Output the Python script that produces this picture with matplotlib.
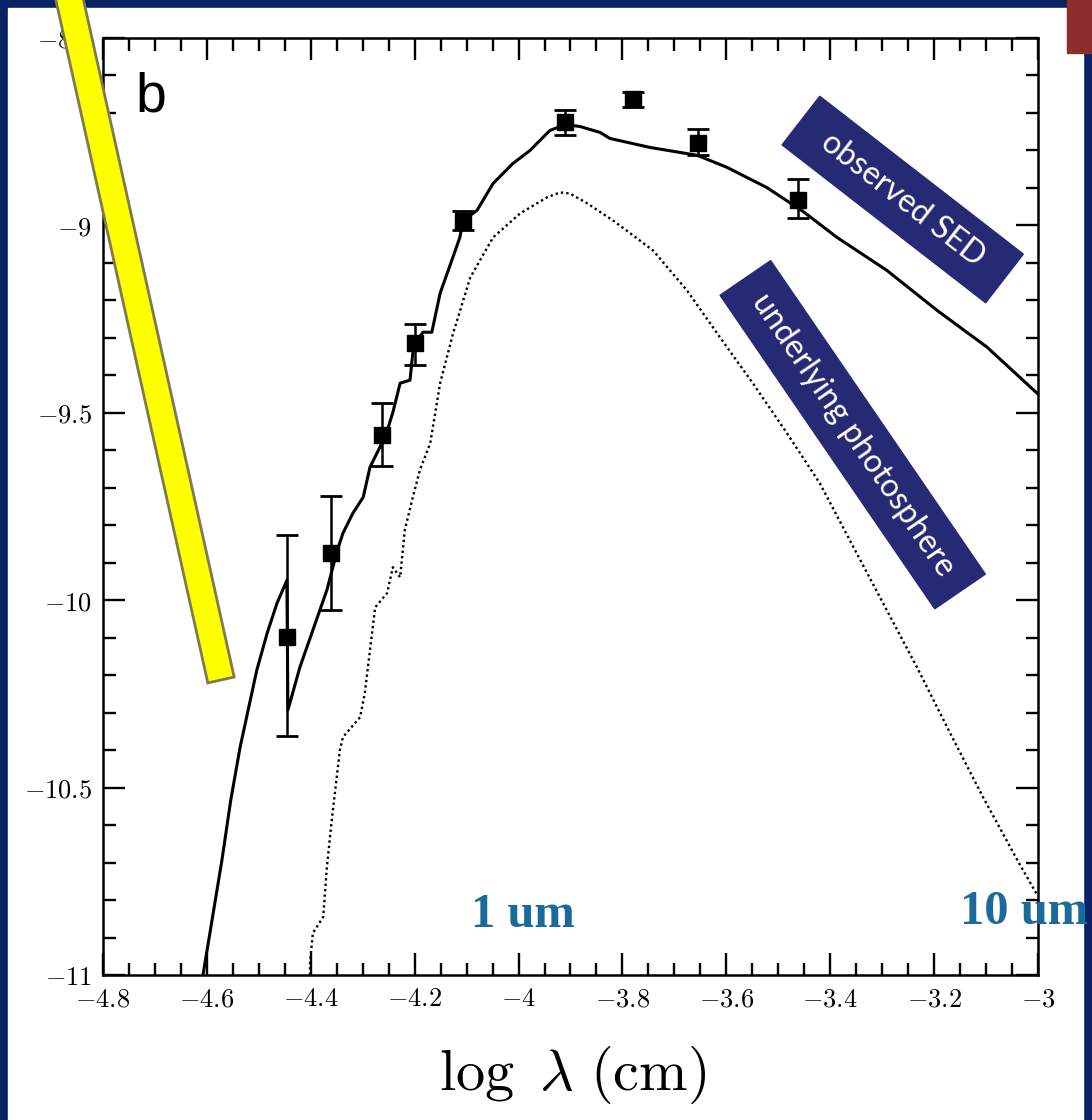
import numpy as np
import matplotlib
matplotlib.use("Agg")
import matplotlib.pyplot as plt
from matplotlib.patches import Polygon, Rectangle
from matplotlib.ticker import MultipleLocator, FuncFormatter

plt.rcParams['mathtext.fontset'] = 'cm'

# photometry: log lambda (cm), log flux, lower / upper errors
obs_x = [-4.446, -4.361, -4.263, -4.199, -4.107, -3.911, -3.780, -3.654, -3.462]
obs_y = [-10.099, -9.875, -9.560, -9.315, -8.987, -8.725, -8.664, -8.779, -8.933]
obs_err_lo = [0.264, 0.152, 0.083, 0.058, 0.025, 0.035, 0.021, 0.034, 0.046]
obs_err_hi = [0.272, 0.152, 0.085, 0.051, 0.025, 0.034, 0.019, 0.035, 0.056]

# observed SED model (solid)
sed_x = [-4.6075, -4.590, -4.571, -4.554, -4.536, -4.504, -4.484, -4.465, -4.446,
         -4.444, -4.421, -4.396, -4.369, -4.349, -4.338, -4.319, -4.299, -4.286,
         -4.267, -4.251, -4.242, -4.228, -4.209, -4.203, -4.199, -4.184, -4.167,
         -4.151, -4.132, -4.113, -4.107, -4.080, -4.049, -4.011, -3.978, -3.940,
         -3.911, -3.882, -3.843, -3.824, -3.747, -3.656, -3.599, -3.522, -3.452,
         -3.387, -3.291, -3.194, -3.098, -3.0]
sed_y = [-11.0, -10.853, -10.693, -10.533, -10.392, -10.187, -10.088, -10.008, -9.947,
         -10.293, -10.179, -10.080, -9.973, -9.867, -9.821, -9.768, -9.725, -9.645,
         -9.592, -9.539, -9.499, -9.421, -9.413, -9.333, -9.315, -9.285, -9.285,
         -9.181, -9.107, -9.032, -8.987, -8.960, -8.888, -8.835, -8.800, -8.747,
         -8.731, -8.736, -8.752, -8.768, -8.792, -8.813, -8.845, -8.899, -8.963,
         -9.032, -9.120, -9.227, -9.325, -9.450]

# underlying photosphere (dotted)
phot_x = [-4.4015, -4.4015, -4.396, -4.376, -4.369, -4.359, -4.344, -4.338, -4.305,
          -4.296, -4.286, -4.276, -4.253, -4.242, -4.228, -4.219, -4.205, -4.190,
          -4.170, -4.151, -4.126, -4.093, -4.049, -3.997, -3.945, -3.920, -3.901,
          -3.868, -3.818, -3.785, -3.741, -3.676, -3.612, -3.549, -3.483, -3.420,
          -3.352, -3.291, -3.233, -3.169, -3.106, -3.040, -3.0]
phot_y = [-11.0, -10.968, -10.888, -10.845, -10.712, -10.579, -10.400, -10.365, -10.312,
          -10.248, -10.133, -10.019, -9.981, -9.912, -9.939, -9.813, -9.733, -9.653,
          -9.581, -9.421, -9.288, -9.139, -9.032, -8.968, -8.925, -8.912, -8.915,
          -8.941, -8.987, -9.021, -9.067, -9.173, -9.299, -9.421, -9.555, -9.688,
          -9.867, -10.027, -10.179, -10.355, -10.525, -10.693, -10.790]

W, H = 1092, 1120
navy = '#0b2265'
fig = plt.figure(figsize=(W / 100, H / 100), dpi=100, facecolor=navy)

# background slide pieces (pixel coordinates)
back = fig.add_axes([0, 0, 1, 1], zorder=-5)
back.set_xlim(0, W)
back.set_ylim(H, 0)
back.axis('off')
back.add_patch(Rectangle((8, 8), 1075, H - 8, color='white'))
back.add_patch(Rectangle((1067, 0), 25, 53, color='#8c2f2c'))

# main plot
ax = fig.add_axes([103 / W, 1 - 975 / H, 935 / W, 937 / H])
ax.plot(sed_x, sed_y, color='black', lw=2.2)
ax.plot(phot_x, phot_y, color='black', lw=1.7, linestyle=(0, (1, 1.3)))
ax.errorbar(obs_x, obs_y, yerr=[obs_err_lo, obs_err_hi], fmt='s', color='black',
            ms=11, capsize=8, elinewidth=1.8, capthick=2)
ax.set_xlim(-4.8, -3)
ax.set_ylim(-11, -8.5)
ax.xaxis.set_major_locator(MultipleLocator(0.2))
ax.xaxis.set_minor_locator(MultipleLocator(0.05))
ax.yaxis.set_major_locator(MultipleLocator(0.5))
ax.yaxis.set_minor_locator(MultipleLocator(0.1))
fmt = FuncFormatter(lambda v, p: f'${v:g}$')
ax.xaxis.set_major_formatter(fmt)
ax.yaxis.set_major_formatter(fmt)
ax.tick_params(which='both', direction='in', top=True, right=True, width=1.7,
               labelsize=19, pad=8)
ax.tick_params(which='major', length=16)
ax.tick_params(which='minor', length=9)
for s in ax.spines.values():
    s.set_linewidth(1.8)

fig.text(573 / W, 1 - 1075 / H, r'$\log\ \lambda\ (\mathrm{cm})$', fontsize=42,
         ha='center', va='center')

# front overlay: annotations in pixel coordinates
front = fig.add_axes([0, 0, 1, 1], zorder=5)
front.set_xlim(0, W)
front.set_ylim(H, 0)
front.axis('off')
front.patch.set_alpha(0)

front.text(151, 98, 'b', fontsize=40, family='Liberation Sans', ha='center', va='center')

# yellow marker bar
c0 = np.array([63.0, -30.0])
c1 = np.array([221.0, 680.0])
d = (c1 - c0) / np.linalg.norm(c1 - c0)
n = np.array([d[1], -d[0]]) * 13.5
front.add_patch(Polygon([c0 - n, c0 + n, c1 + n, c1 - n], closed=True,
                        facecolor='#ffff00', edgecolor='#7d7a52', lw=2))


def label_box(cx, cy, length, width, ang, text, size):
    a = np.radians(ang)
    dv = np.array([np.cos(a), np.sin(a)]) * length / 2
    nv = np.array([-np.sin(a), np.cos(a)]) * width / 2
    c = np.array([cx, cy])
    front.add_patch(Polygon([c - dv - nv, c + dv - nv, c + dv + nv, c - dv + nv],
                            closed=True, color='#262a75'))
    front.text(cx, cy, text, color='white', fontsize=size, family='Lato',
               rotation=-ang, rotation_mode='anchor', ha='center', va='center')


label_box(902.7, 199.5, 257.6, 61.5, 37.8, 'observed SED', 23)
label_box(852.7, 434.7, 380.0, 61.3, 55.6, 'underlying photosphere', 23)

front.text(523, 915, '1 um', fontsize=35, fontweight='bold', family='Liberation Serif',
           color='#1b6a9c', ha='center', va='center')
front.text(1024, 912, '10 um', fontsize=35, fontweight='bold', family='Liberation Serif',
           color='#1b6a9c', ha='center', va='center', clip_on=False)

fig.savefig('out.png', dpi=100, facecolor=navy)
